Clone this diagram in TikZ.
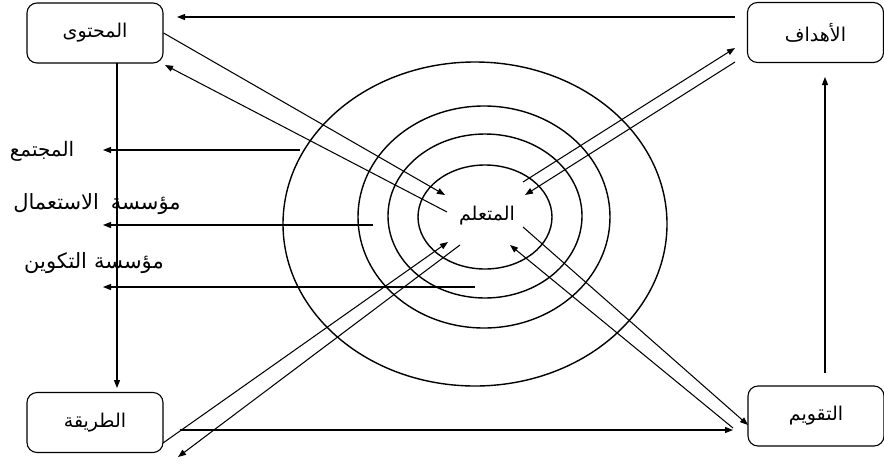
\documentclass[tikz,border=0pt]{standalone}
\usepackage{fontspec}
\newfontfamily\arabicfont[Script=Arabic]{DejaVu Sans}
\TeXXeTstate=1
\usetikzlibrary{arrows.meta}
\begin{document}
\begin{tikzpicture}[x=1pt,y=-1pt,
  box/.style={draw,line width=1.1pt,rounded corners=10pt,minimum width=136pt,minimum height=60pt,font=\arabicfont\fontsize{19}{22}\selectfont},
  lbl/.style={font=\arabicfont\fontsize{21}{25}\selectfont,inner sep=0pt},
  ring/.style={line width=1.4pt},
  arr/.style={line width=1.05pt,-{Triangle[length=8pt,width=6pt]}}]
\useasboundingbox (0,0) rectangle (884,464);
% boxes
\node[box] (content) at (95,33) {\beginR المحتوى\endR};
\node[box] (goals) at (815.5,32.5) {\beginR الأهداف\endR};
\node[box] (method) at (95,422.5) {\beginR الطريقة\endR};
\node[box] (eval) at (816,416) {\beginR التقويم\endR};
% rings
\draw[ring] (475,224) ellipse [x radius=192pt, y radius=162pt];
\draw[ring] (484,217) ellipse [x radius=126pt, y radius=111pt];
\draw[ring] (485,216) ellipse [x radius=97pt, y radius=82pt];
\draw[ring] (485,217) ellipse [x radius=67pt, y radius=52pt];
\node[lbl,font=\arabicfont\fontsize{19}{22}\selectfont] (learner) at (487,216) {\beginR المتعلم\endR};
% side labels
\node[lbl,font=\arabicfont\fontsize{20}{24}\selectfont] (society) at (42,151) {\beginR المجتمع\endR};
\node[lbl] (use) at (97,204) {\beginR مؤسسة\hspace{12pt}الاستعمال\endR};
\node[lbl] (train) at (94,263) {\beginR مؤسسة\hspace{7pt}التكوين\endR};
% coordinates
\coordinate (g1) at (735,17);   \coordinate (g1e) at (177,17);
\coordinate (v1) at (117,63);   \coordinate (v1e) at (117,388);
\coordinate (v2) at (825,373);  \coordinate (v2e) at (825,77);
\coordinate (b1) at (180,430);  \coordinate (b1e) at (733,430);
\coordinate (h1) at (300,150);  \coordinate (h1e) at (103,150);
\coordinate (h2) at (373,225);  \coordinate (h2e) at (103,225);
\coordinate (h3) at (475,287);  \coordinate (h3e) at (103,287);
\coordinate (d1e) at (445,195);
\coordinate (d2s) at (447,212); \coordinate (d2e) at (165,65);
\coordinate (d3s) at (523,182); \coordinate (d3e) at (735,48);
\coordinate (d4s) at (735,62);  \coordinate (d4e) at (525,195);
\coordinate (d5s) at (163,443); \coordinate (d5e) at (448,242);
\coordinate (d6s) at (460,245); \coordinate (d6e) at (178,457);
\coordinate (d7s) at (523,227); \coordinate (d7e) at (748,425);
\coordinate (d8s) at (733,428); \coordinate (d8e) at (510,245);
% connectors
\draw[arr] (g1) -- (g1e);
\draw[arr] (v1) -- (v1e);
\draw[arr] (v2) -- (v2e);
\draw[arr] (b1) -- (b1e);
\draw[arr] (h1) -- (h1e);
\draw[arr] (h2) -- (h2e);
\draw[arr] (h3) -- (h3e);
\draw[arr] (content.east) -- (d1e);
\draw[arr] (d2s) -- (d2e);
\draw[arr] (d3s) -- (d3e);
\draw[arr] (d4s) -- (d4e);
\draw[arr] (d5s) -- (d5e);
\draw[arr] (d6s) -- (d6e);
\draw[arr] (d7s) -- (d7e);
\draw[arr] (d8s) -- (d8e);
\end{tikzpicture}
\end{document}
